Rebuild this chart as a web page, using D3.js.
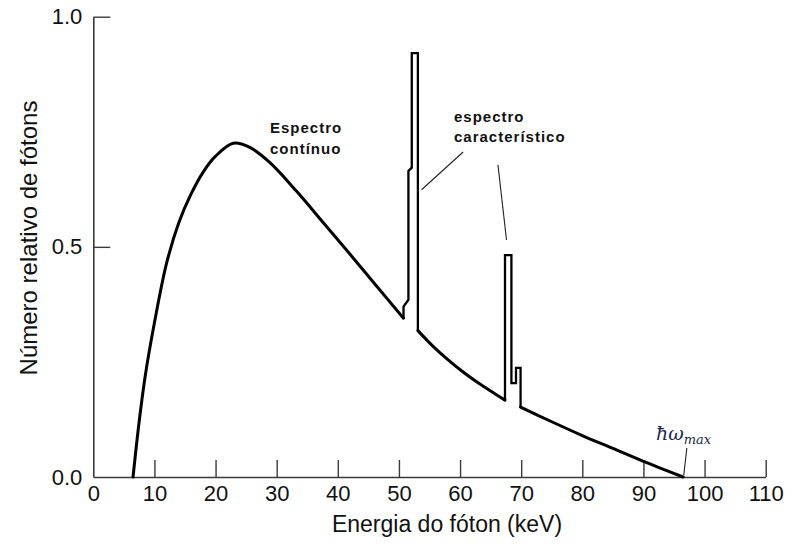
<!DOCTYPE html>
<html>
<head>
<meta charset="utf-8">
<script src="https://cdn.jsdelivr.net/npm/d3@7"></script>
<style>
  html, body { margin: 0; padding: 0; background: #fff; }
  svg { display: block; }
  text { font-family: "Liberation Sans", Arial, sans-serif; fill: #111; }
</style>
</head>
<body>
<svg id="chart" width="794" height="544"></svg>
<script>
// X-ray tube output spectrum: bremsstrahlung continuum plus characteristic lines.

// Continuum, rising edge up to the first characteristic line (keV, relative photon count)
const contEnergyA = [6.5, 7.5, 8.5, 10.0, 12.0, 14.0, 16.0, 18.0, 20.0, 22.9, 25.6, 28.9, 33.3, 37.6, 42.0, 46.4, 50.75];
const contCountA  = [0, 0.12, 0.22, 0.335, 0.465, 0.553, 0.615, 0.663, 0.697, 0.725, 0.716, 0.683, 0.62, 0.553, 0.484, 0.414, 0.345];

// First characteristic group (stepped outline)
const lineEnergyK1 = [50.75, 50.75, 51.55, 51.55, 52.1, 52.1, 53.1, 53.1];
const lineCountK1  = [0.345, 0.37, 0.385, 0.665, 0.672, 0.921, 0.921, 0.318];

// Continuum between the two groups
const contEnergyB = [53.1, 55.5, 58.0, 60.5, 63.0, 65.2, 67.35];
const contCountB  = [0.318, 0.285, 0.255, 0.228, 0.204, 0.185, 0.167];

// Second characteristic group
const lineEnergyK2 = [67.35, 67.35, 68.4, 68.4, 69.15, 69.15, 69.9, 69.9];
const lineCountK2  = [0.167, 0.482, 0.482, 0.204, 0.204, 0.237, 0.237, 0.152];

// Continuum tail down to the maximum photon energy
const contEnergyC = [69.9, 75.0, 80.0, 85.0, 90.0, 96.5];
const contCountC  = [0.152, 0.12, 0.09, 0.062, 0.034, 0];

// Axis ticks and labels
const xTicks = [0, 10, 20, 30, 40, 50, 60, 70, 80, 90, 100, 110];
const yTicks = [0, 0.5, 1.0];
const xTitle = "Energia do fóton (keV)";
const yTitle = "Número relativo de fótons";

const svg = d3.select("#chart");

const x = d3.scaleLinear().domain([0, 110]).range([93.3, 765.7]);
const y = d3.scaleLinear().domain([0, 1]).range([477, 16.7]);

const zip = (a, b) => a.map((v, i) => [v, b[i]]);

// Axes
const axisColor = "#3a3a3a";
const gx = svg.append("g")
  .attr("transform", `translate(0,${y(0)})`)
  .call(d3.axisBottom(x).tickValues(xTicks).tickFormat(d3.format("d"))
    .tickSizeInner(-17).tickSizeOuter(0).tickPadding(8));
const gy = svg.append("g")
  .attr("transform", `translate(${x(0)},0)`)
  .call(d3.axisLeft(y).tickValues(yTicks).tickFormat(d3.format(".1f"))
    .tickSizeInner(-17).tickSizeOuter(0).tickPadding(11));

[gx, gy].forEach(g => {
  g.select(".domain").attr("stroke", axisColor).attr("stroke-width", 1.6);
  g.selectAll(".tick line").attr("stroke", axisColor).attr("stroke-width", 1.4);
  g.selectAll(".tick text")
    .attr("fill", "#111")
    .style("font-family", "'Liberation Sans', Arial, sans-serif")
    .style("font-size", "22px");
});
// the zero ticks sit on the other axis
gx.selectAll(".tick").filter(d => d === 0).select("line").remove();
gy.selectAll(".tick").filter(d => d === 0).select("line").remove();

// Axis titles
svg.append("text")
  .attr("x", 447).attr("y", 532)
  .attr("text-anchor", "middle")
  .style("font-size", "23px")
  .text(xTitle);

svg.append("text")
  .attr("transform", "translate(37,238) rotate(-90)")
  .attr("text-anchor", "middle")
  .style("font-size", "24px")
  .text(yTitle);

// Spectrum
const smooth = d3.line().x(d => x(d[0])).y(d => y(d[1])).curve(d3.curveCatmullRom.alpha(0.5));
const stepped = d3.line().x(d => x(d[0])).y(d => y(d[1]));

const plot = svg.append("g")
  .attr("fill", "none")
  .attr("stroke", "#000")
  .attr("stroke-linejoin", "round")
  .attr("stroke-linecap", "round");

[zip(contEnergyA, contCountA), zip(contEnergyB, contCountB), zip(contEnergyC, contCountC)]
  .forEach(pts => plot.append("path").attr("d", smooth(pts)).attr("stroke-width", 3));

[zip(lineEnergyK1, lineCountK1), zip(lineEnergyK2, lineCountK2)]
  .forEach(pts => plot.append("path").attr("d", stepped(pts)).attr("stroke-width", 2.3)
    .attr("stroke-linejoin", "miter"));

// Annotations
const note = svg.append("g")
  .style("font-family", "'Liberation Sans', Arial, sans-serif")
  .style("font-weight", "bold")
  .style("font-size", "15px")
  .style("letter-spacing", "1px");

note.append("text").attr("x", 270).attr("y", 133).text("Espectro");
note.append("text").attr("x", 270).attr("y", 154).text("contínuo");
note.append("text").attr("x", 454).attr("y", 122).text("espectro");
note.append("text").attr("x", 454).attr("y", 142).text("característico");

// Leader lines
const leaders = [
  [[60.5, 0.706], [53.7, 0.624]],
  [[66.2, 0.678], [67.6, 0.515]],
  [[97.1, 0.063], [96.6, 0.004]]
];
svg.append("g").selectAll("line").data(leaders).join("line")
  .attr("x1", d => x(d[0][0])).attr("y1", d => y(d[0][1]))
  .attr("x2", d => x(d[1][0])).attr("y2", d => y(d[1][1]))
  .attr("stroke", "#222").attr("stroke-width", 1.1);

// Maximum photon energy label
const hw = svg.append("text")
  .attr("x", 656).attr("y", 440)
  .style("font-family", "'DejaVu Serif', 'Liberation Serif', serif")
  .style("font-style", "italic")
  .style("font-size", "19px")
  .attr("fill", "#1d2748");
hw.append("tspan").text("ħω").attr("fill", "#1d2748");
hw.append("tspan").text("max").attr("dy", 4).style("font-size", "13px").attr("fill", "#1d2748");
</script>
</body>
</html>
